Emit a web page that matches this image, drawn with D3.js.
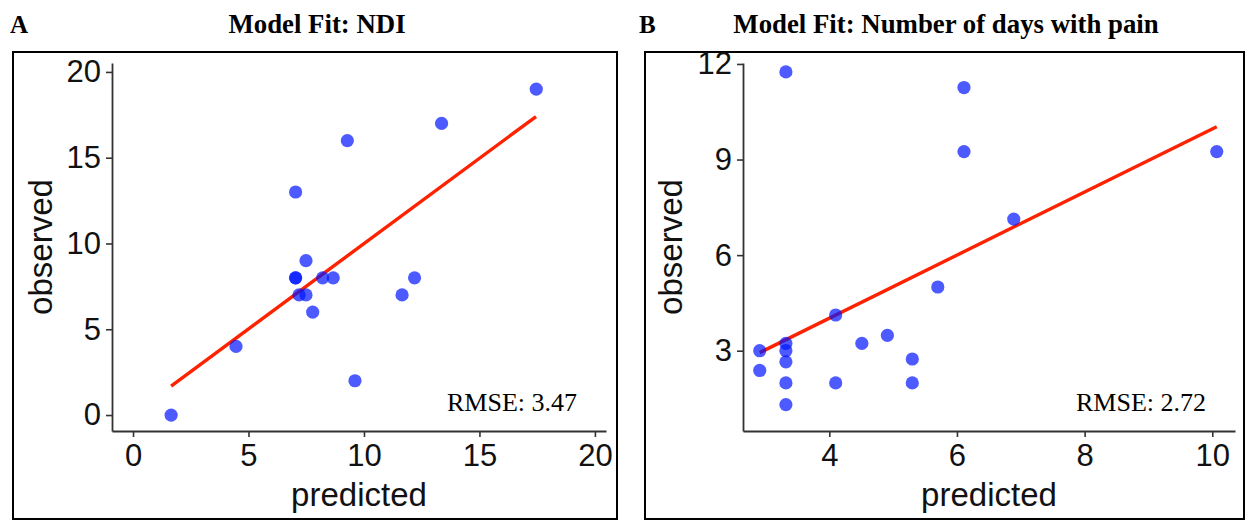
<!DOCTYPE html>
<html>
<head>
<meta charset="utf-8">
<script src="https://cdn.jsdelivr.net/npm/d3@7"></script>
<style>
  html, body { margin: 0; padding: 0; background: #fff; }
  svg { display: block; }
</style>
</head>
<body>
<svg id="chart" width="1245" height="521"></svg>
<script>
// ---------- DATA ----------
const titleA = "Model Fit: NDI";
const titleB = "Model Fit: Number of days with pain";
const rmseA = "RMSE: 3.47";
const rmseB = "RMSE: 2.72";

const predictedA = [1.65, 4.46, 7.04, 7.04, 7.04, 7.19, 7.49, 7.49, 7.78, 8.21, 8.67, 9.28, 9.61, 11.65, 12.19, 13.36, 17.46];
const observedA  = [0,    4,    13,   8,    8,    7,    9,    7,    6,    8,    8,    16,   2,    7,    8,    17,   19];
const fitLineAx  = [1.65, 17.45];
const fitLineAy  = [1.69, 17.40];
const xTicksA = [0, 5, 10, 15, 20];
const yTicksA = [0, 5, 10, 15, 20];

const predictedB = [3.32, 6.11, 6.11, 10.07, 6.89, 5.70, 4.10, 4.91, 4.51, 3.32, 3.32, 2.91, 3.32, 5.30, 2.91, 3.32, 4.10, 5.30, 3.32];
const observedB  = [11.75, 11.26, 9.25, 9.25, 7.13, 5.0, 4.12, 3.48, 3.23, 3.23, 3.0, 3.0, 2.65, 2.74, 2.38, 1.99, 1.99, 1.99, 1.31];
const fitLineBx  = [2.91, 10.07];
const fitLineBy  = [2.94, 10.03];
const xTicksB = [4, 6, 8, 10];
const yTicksB = [3, 6, 9, 12];

// ---------- LAYOUT ----------
const svg = d3.select("#chart");
const SERIF = "'Liberation Serif', 'Times New Roman', serif";
const SANS = "'Liberation Sans', Arial, Helvetica, sans-serif";
const axisY = 431, axisTop = 63;

const panels = [
  { letter: "A", letterX: 10, title: titleA, titleX: 317,
    box: [13, 52, 617, 519],
    left: 112, right: 606, xDom: [-0.91, 20.48], yDom: [-0.93, 20.52],
    xs: predictedA, ys: observedA, lx: fitLineAx, ly: fitLineAy,
    xt: xTicksA, yt: yTicksA, rmse: rmseA, rmseX: 577, labelX: 52 },
  { letter: "B", letterX: 639, title: titleB, titleX: 946,
    box: [645, 52, 1244, 519],
    left: 743, right: 1235, xDom: [2.648, 10.356], yDom: [0.48, 12.03],
    xs: predictedB, ys: observedB, lx: fitLineBx, ly: fitLineBy,
    xt: xTicksB, yt: yTicksB, rmse: rmseB, rmseX: 1206, labelX: 682 }
];

panels.forEach(p => {
  const g = svg.append("g");
  // panel letter & title
  g.append("text").attr("x", p.letterX).attr("y", 33)
    .attr("font-family", SERIF).attr("font-weight", "bold").attr("font-size", 25)
    .text(p.letter);
  g.append("text").attr("x", p.titleX).attr("y", 33).attr("text-anchor", "middle")
    .attr("font-family", SERIF).attr("font-weight", "bold").attr("font-size", 26.8)
    .text(p.title);
  // frame
  g.append("rect").attr("x", p.box[0]).attr("y", p.box[1])
    .attr("width", p.box[2] - p.box[0]).attr("height", p.box[3] - p.box[1])
    .attr("fill", "none").attr("stroke", "#000").attr("stroke-width", 2);

  const x = d3.scaleLinear().domain(p.xDom).range([p.left, p.right]);
  const y = d3.scaleLinear().domain(p.yDom).range([axisY, axisTop]);

  const gx = g.append("g").attr("transform", `translate(0,${axisY})`)
    .call(d3.axisBottom(x).tickValues(p.xt).tickSize(6).tickSizeOuter(0).tickPadding(7));
  const gy = g.append("g").attr("transform", `translate(${p.left},0)`)
    .call(d3.axisLeft(y).tickValues(p.yt).tickSize(6).tickSizeOuter(0).tickPadding(5));
  [gx, gy].forEach(a => {
    a.selectAll("path.domain").attr("stroke", "#333").attr("stroke-width", 1.8);
    a.selectAll(".tick line").attr("stroke", "#333").attr("stroke-width", 1.6);
    a.selectAll(".tick text").attr("font-family", SANS).attr("font-size", 31).attr("fill", "#111");
  });

  // axis titles
  g.append("text").attr("x", (p.left + p.right) / 2).attr("y", 506).attr("text-anchor", "middle")
    .attr("font-family", SANS).attr("font-size", 33).attr("fill", "#111").text("predicted");
  g.append("text").attr("transform", `translate(${p.labelX},${(axisY + axisTop) / 2}) rotate(-90)`)
    .attr("text-anchor", "middle")
    .attr("font-family", SANS).attr("font-size", 33).attr("fill", "#111").text("observed");

  // fit line
  const lineData = p.lx.map((v, i) => [v, p.ly[i]]);
  g.append("path").datum(lineData)
    .attr("d", d3.line().x(d => x(d[0])).y(d => y(d[1])))
    .attr("stroke", "#ff2200").attr("stroke-width", 3.4).attr("fill", "none");

  // points
  const pts = p.xs.map((v, i) => ({ x: v, y: p.ys[i] }));
  g.append("g").selectAll("circle").data(pts).join("circle")
    .attr("cx", d => x(d.x)).attr("cy", d => y(d.y)).attr("r", 6.6)
    .attr("fill", "rgb(0,20,255)").attr("fill-opacity", 0.7);

  // RMSE label
  g.append("text").attr("x", p.rmseX).attr("y", 411).attr("text-anchor", "end")
    .attr("font-family", SERIF).attr("font-size", 26).attr("fill", "#000").text(p.rmse);
});
</script>
</body>
</html>
